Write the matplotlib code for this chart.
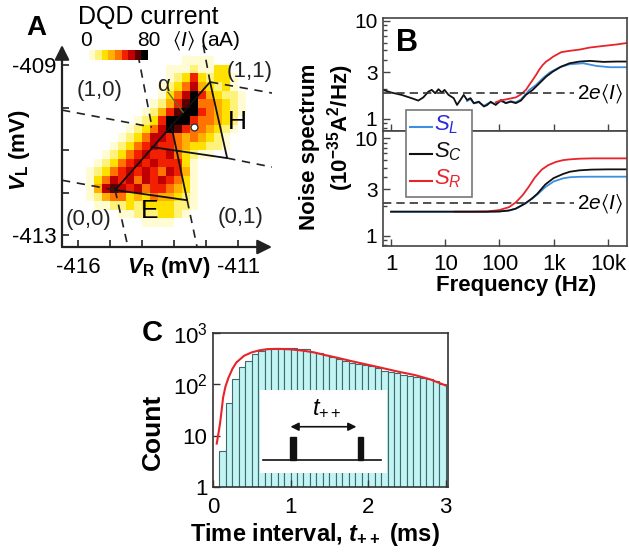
import numpy as np
import matplotlib
matplotlib.use('Agg')
import matplotlib.pyplot as plt
from matplotlib.colors import ListedColormap, BoundaryNorm
from matplotlib.patches import Rectangle
from matplotlib.lines import Line2D
from matplotlib.ticker import FixedLocator, FixedFormatter, LogLocator, NullFormatter

plt.rcParams['font.family'] = ['Liberation Sans', 'DejaVu Sans']
plt.rcParams['mathtext.fontset'] = 'custom'
plt.rcParams['mathtext.rm'] = 'Liberation Sans'
plt.rcParams['mathtext.it'] = 'Liberation Sans:italic'
plt.rcParams['mathtext.bf'] = 'Liberation Sans:bold'
plt.rcParams['mathtext.bfit'] = 'Liberation Sans:bold:italic'
plt.rcParams['mathtext.fallback'] = 'stixsans'

# ---- panel A: DQD current map (one digit per cell, 0..9 -> 0..72 aA)
vr_edges = np.linspace(-415.75, -410.75, 21)
vl_edges = np.linspace(-408.8, -412.8, 21)
current_rows = [
    "............1111....",
    "..........11121133..",
    "..........123632331.",
    ".........1235743231.",
    ".........13579643221",
    "........124689554321",
    ".......1246899654321",
    "......1236999655432.",
    ".....12357986554321.",
    "....12357765454321..",
    "...123567665433221..",
    "..12356766753211....",
    ".1235676766631......",
    "12356767657641......",
    "13576757676531......",
    "14787675665431......",
    "12455343544321......",
    ".1122323333221......",
    "....112223321.......",
    ".......1111.........",
]
level_colors = ['#ffffff', '#fffbd2', '#fff27a', '#ffe100', '#ffb000',
                '#ff7400', '#f02000', '#c00000', '#5a0000', '#000000']

# bias triangle outlines (mV)
p00 = (-414.84, -411.94)
e_corner = (-412.59, -412.18)
e_apex = (-413.09, -410.41)
p11 = (-411.875, -409.40)
h_corner = (-411.34, -411.19)
h_apex = (-413.69, -410.93)
corner = (-413.69, -410.46)

# ---- panel B: noise spectra
top_f_c = [0.71, 1.01, 1.56, 2.39, 3.18, 3.94, 4.89, 5.63, 6.51, 7.5, 8.65, 9.7, 11.5, 14.3,
           16.5, 19.0, 21.9, 25.3, 29.2, 33.7, 41.7, 51.7, 59.6, 68.9, 85.3, 106, 131, 162,
           201, 249, 308, 411, 546, 728, 967, 1384, 1977, 3036, 4660, 8250, 14600, 22500]
top_s_c = [1.98, 1.86, 1.76, 1.63, 1.54, 1.66, 1.90, 1.98, 1.83, 2.01, 1.86, 1.98, 1.76, 1.63,
           1.39, 1.56, 1.76, 1.56, 1.63, 1.45, 1.50, 1.34, 1.39, 1.50, 1.39, 1.56, 1.45, 1.50,
           1.45, 1.54, 1.76, 1.98, 2.31, 2.70, 3.04, 3.42, 3.70, 3.85, 3.91, 3.82, 3.85, 3.85]
top_f_l = [25.3, 29.2, 33.7, 41.7, 51.7, 59.6, 68.9, 85.3, 106, 131, 162, 201, 249, 308,
           356, 474, 630, 839, 1288, 1977, 3500, 6210, 11000, 22500]
top_s_l = [1.52, 1.60, 1.44, 1.48, 1.36, 1.43, 1.47, 1.41, 1.52, 1.46, 1.52, 1.48, 1.58, 1.80,
           1.98, 2.22, 2.60, 2.97, 3.37, 3.61, 3.70, 3.47, 3.37, 3.37]
top_f_r = [85.3, 106, 131, 162, 201, 249, 308, 360, 411, 474, 546, 630, 728, 839, 967,
           1384, 1977, 3036, 4660, 8250, 14600, 22500]
top_s_r = [1.48, 1.55, 1.58, 1.62, 1.66, 1.78, 1.98, 2.25, 2.50, 2.81, 3.20, 3.55, 3.85, 4.05,
           4.30, 4.80, 4.95, 5.10, 5.35, 5.55, 5.75, 5.95]
top_shot = 1.83

bot_f = [1, 3, 10, 30, 60, 100, 150, 200, 300, 400, 500, 700, 1000, 1500, 2000, 3000, 5000,
         10000, 22500]
bot_s_c = [1.77, 1.77, 1.77, 1.77, 1.77, 1.78, 1.82, 1.90, 2.15, 2.42, 2.70, 3.35, 3.90, 4.30,
           4.53, 4.68, 4.76, 4.79, 4.79]
bot_s_l = [1.77, 1.77, 1.77, 1.77, 1.77, 1.78, 1.82, 1.90, 2.15, 2.40, 2.65, 3.15, 3.60, 3.88,
           3.98, 4.02, 4.03, 4.03, 4.03]
bot_f_r = [15, 30, 60, 100, 150, 200, 270, 350, 450, 600, 800, 1100, 1500, 2000, 3000, 5000,
           10000, 22500]
bot_s_r = [1.77, 1.77, 1.78, 1.84, 1.97, 2.20, 2.62, 3.20, 3.95, 4.75, 5.30, 5.70, 5.95, 6.06,
           6.15, 6.20, 6.20, 6.20]
bot_shot = 2.16

# ---- panel C: waiting-time histogram
bin_width = 1 / 12
counts = [0, 5, 44, 125, 215, 285, 390, 450, 490, 500, 505, 505, 500, 495, 480, 430, 400, 375,
          340, 310, 280, 255, 245, 235, 225, 205, 185, 175, 165, 155, 145, 138, 132, 128, 118, 100]
fit_t = [0.048, 0.07, 0.09, 0.11, 0.13, 0.16, 0.2, 0.25, 0.3, 0.4, 0.5, 0.6, 0.7, 0.85, 1.0,
         1.15, 1.3, 1.45, 1.6, 1.8, 2.0, 2.2, 2.4, 2.6, 2.8, 3.0]
fit_n = [7, 11, 17, 30, 55, 90, 135, 200, 265, 360, 420, 460, 485, 490, 480, 455, 420, 370,
         330, 280, 240, 205, 175, 152, 125, 95]

blue, red, dark = '#3d8fe0', '#e8232a', '#111111'
W, H = 629, 556


def box(l, t, r, b):
    return [l / W, 1 - b / H, (r - l) / W, (b - t) / H]


def fx(x):
    return x / W


def fy(y):
    return 1 - y / H


fig = plt.figure(figsize=(W / 100, H / 100), dpi=100)

# ================= A =================
axA = fig.add_axes(box(62, 45, 272, 247))
current = np.array([[int(ch) if ch != '.' else 0 for ch in row] for row in current_rows]) * 8.0
cmap = ListedColormap(level_colors)
norm = BoundaryNorm(np.arange(0, 88, 8), 10)
mesh = axA.pcolormesh(vr_edges, vl_edges, current, cmap=cmap, norm=norm)
axA.set_xlim(-416.5, -409.94)
axA.set_ylim(-413.28, -408.53)
for s in axA.spines.values():
    s.set_visible(False)
arr = dict(arrowstyle='-|>', color='#222222', lw=1.6, mutation_scale=22, shrinkA=0, shrinkB=0)
axA.annotate('', xy=(0, 1), xytext=(0, 0), xycoords='axes fraction', arrowprops=arr)
axA.annotate('', xy=(1, 0), xytext=(0, 0), xycoords='axes fraction', arrowprops=arr)
axA.set_xticks(np.arange(-416, -410))
axA.set_xticklabels(['-416', '', '', '', '', '-411'])
axA.set_yticks(np.arange(-413, -408))
axA.set_yticklabels(['-413', '', '', '', '-409'])
axA.tick_params(direction='in', length=5, width=1.2, labelsize=16, color='#222222')
axA.tick_params(axis='x', pad=7)
axA.tick_params(axis='y', pad=4)

dash = dict(color='#222222', lw=1.2, ls=(0, (5, 4)))
solid = dict(color='#111111', lw=1.3)
axA.plot([-416.5, corner[0]], [-410.06, corner[1]], **dash)
axA.plot([-414.125, corner[0]], [-408.76, corner[1]], **dash)
axA.plot([-412.09, p11[0]], [-408.53, p11[1]], **dash)
axA.plot([p11[0], -409.94], [p11[1], -409.66], **dash)
axA.plot([h_corner[0], -409.94], [h_corner[1], -411.40], **dash)
axA.plot([-416.5, p00[0]], [-411.71, p00[1]], **dash)
axA.plot([p00[0], -414.44], [p00[1], -413.28], **dash)
axA.plot([e_corner[0], -412.28], [e_corner[1], -413.28], **dash)
axA.plot([p00[0], p11[0]], [p00[1], p11[1]], **solid)
axA.plot([p00[0], e_corner[0], e_apex[0]], [p00[1], e_corner[1], e_apex[1]], **solid)
axA.plot([p11[0], h_corner[0], h_apex[0]], [p11[1], h_corner[1], h_apex[1]], **solid)
axA.plot([-413.19, -412.72], [-409.64, -410.11], color='#6b6b30', lw=1.0)
axA.plot([-412.375], [-410.46], 'o', ms=5, mfc='white', mec='#333333', mew=1)

lab = dict(transform=axA.transAxes, ha='center', va='center', fontsize=16, color='#222222')
axA.text(0.181, 0.777, '(1,0)', **lab)
axA.text(0.895, 0.870, '(1,1)', **lab)
axA.text(0.124, 0.134, '(0,0)', **lab)
axA.text(0.848, 0.144, '(0,1)', **lab)
axA.text(0.481, 0.800, 'α', **lab)
axA.text(0.833, 0.619, 'H', transform=axA.transAxes, ha='center', va='center', fontsize=19)
axA.text(0.419, 0.178, 'E', transform=axA.transAxes, ha='center', va='center', fontsize=19)
axA.text(0.51, -0.1, r'$\mathbfit{V}_{\mathbf{R}}$ (mV)', transform=axA.transAxes,
         ha='center', va='center', fontsize=16, fontweight='bold')
axA.text(-0.2, 0.48, r'$\mathbfit{V}_{\mathbf{L}}$ (mV)', transform=axA.transAxes,
         ha='center', va='center', fontsize=16, fontweight='bold', rotation=90)

cax = fig.add_axes(box(82, 50, 148, 60))
cb = fig.colorbar(mesh, cax=cax, orientation='horizontal')
cb.outline.set_visible(False)
cax.minorticks_off()
cax.set_xticks([])
fig.text(fx(148), fy(17), 'DQD current', ha='center', va='center', fontsize=18)
fig.text(fx(86), fy(41), '0', ha='center', va='center', fontsize=15)
fig.text(fx(149), fy(41), '80', ha='center', va='center', fontsize=15)
fig.text(fx(206), fy(41), r'$\langle I\rangle$ (aA)', ha='center', va='center', fontsize=15)
fig.text(fx(36), fy(28), 'A', ha='center', va='center', fontsize=20, fontweight='bold')

# ================= B =================
axB1 = fig.add_axes(box(383, 18, 627, 131))
axB2 = fig.add_axes(box(383, 131, 627, 246))
axB1.plot(top_f_l, top_s_l, color=blue, lw=1.3)
axB1.plot(top_f_c, top_s_c, color=dark, lw=1.3)
axB1.plot(top_f_r, top_s_r, color=red, lw=1.3)
axB2.plot(bot_f, bot_s_l, color=blue, lw=1.3)
axB2.plot(bot_f_r, bot_s_r, color=red, lw=1.3)
axB2.plot(bot_f, bot_s_c, color=dark, lw=1.3)
axB1.hlines(top_shot, 0.71, 2400, color='#333333', lw=1.2, ls=(0, (5, 3)))
axB2.hlines(bot_shot, 0.71, 2400, color='#333333', lw=1.2, ls=(0, (5, 3)))
axB1.text(2700, top_shot, r'2$e\langle I\rangle$', ha='left', va='center', fontsize=15)
axB2.text(2700, bot_shot, r'2$e\langle I\rangle$', ha='left', va='center', fontsize=15)
axB1.set_ylim(0.754, 10.7)
axB2.set_ylim(0.79, 11.8)
for ax in (axB1, axB2):
    ax.set_xscale('log')
    ax.set_yscale('log')
    ax.set_xlim(0.71, 22600)
    ax.xaxis.set_major_locator(FixedLocator([1, 10, 100, 1000, 10000]))
    ax.xaxis.set_minor_locator(FixedLocator([]))
    ax.yaxis.set_major_locator(FixedLocator([1, 3, 10]))
    ax.yaxis.set_major_formatter(FixedFormatter(['1', '3', '10']))
    ax.yaxis.set_minor_locator(LogLocator(subs=np.arange(2, 10)))
    ax.yaxis.set_minor_formatter(NullFormatter())
    ax.tick_params(which='both', direction='in', labelsize=15, width=1.0, color='#444444')
    ax.tick_params(which='major', length=5)
    ax.tick_params(which='minor', length=3)
    ax.tick_params(axis='y', pad=4)
    for s in ax.spines.values():
        s.set_color('#444444')
        s.set_linewidth(1.2)
axB1.set_xticklabels([])
axB2.xaxis.set_major_formatter(FixedFormatter(['1', '10', '100', '1k', '10k']))
axB2.tick_params(axis='x', pad=6, labelsize=16)

fig.text(fx(407), fy(43), 'B', ha='center', va='center', fontsize=22, fontweight='bold')
fig.text(fx(309), fy(147), 'Noise spectrum', rotation=90, ha='center', va='center',
         fontsize=16, fontweight='bold')
fig.text(fx(341), fy(128), r'(10$^{\mathbf{-35}}$A$^{\mathbf{2}}$/Hz)', rotation=90,
         ha='center', va='center', fontsize=16, fontweight='bold')
fig.text(fx(516), fy(285), 'Frequency (Hz)', ha='center', va='center', fontsize=16,
         fontweight='bold')

# legend box spanning both spectra
leg = Rectangle((fx(406), fy(197)), (472 - 406) / W, (197 - 110) / H, transform=fig.transFigure,
                facecolor='white', edgecolor='#777777', lw=1.2, zorder=10)
fig.add_artist(leg)
for y, lc, tc, txt in [(127, blue, '#2a2ad8', r'$S_L$'), (154, dark, dark, r'$S_C$'),
                       (181, red, red, r'$S_R$')]:
    fig.add_artist(Line2D([fx(410), fx(432)], [fy(y), fy(y)], transform=fig.transFigure,
                          color=lc, lw=1.5, zorder=11))
    fig.text(fx(434), fy(y - 2), txt, color=tc, fontsize=16, ha='left', va='center', zorder=11)

# ================= C =================
axC = fig.add_axes(box(213, 333, 448, 487))
centers = (np.arange(len(counts)) + 0.5) * bin_width
axC.bar(centers, counts, width=bin_width, color='#c2f4f4', edgecolor='#3d6b6b', lw=0.8)
axC.plot(fit_t, fit_n, color=red, lw=1.5, zorder=5)
axC.set_yscale('log')
axC.set_ylim(1, 1000)
axC.set_xlim(0, 3.03)
axC.yaxis.set_major_locator(FixedLocator([1, 10, 100, 1000]))
axC.yaxis.set_major_formatter(FixedFormatter(['1', '10', r'$10^2$', r'$10^3$']))
axC.yaxis.set_minor_locator(FixedLocator([]))
axC.set_xticks([0, 1, 2, 3])
axC.tick_params(direction='in', length=5, labelsize=16, width=1.0, color='#333333')
axC.tick_params(axis='x', pad=7)
axC.tick_params(axis='y', pad=4)
for s in axC.spines.values():
    s.set_color('#333333')
    s.set_linewidth(1.2)

ins = axC.inset_axes([0.2, 0.09, 0.54, 0.54])
ins.set_xlim(0, 1)
ins.set_ylim(0, 1)
ins.set_xticks([])
ins.set_yticks([])
for s in ins.spines.values():
    s.set_visible(False)
ins.set_facecolor('white')
ins.plot([0.02, 0.95], [0.157, 0.157], color='#111111', lw=1.2)
ins.add_patch(Rectangle((0.236, 0.157), 0.045, 0.28, color='#111111'))
ins.add_patch(Rectangle((0.77, 0.157), 0.045, 0.28, color='#111111'))
ins.annotate('', xy=(0.24, 0.558), xytext=(0.76, 0.558),
             arrowprops=dict(arrowstyle='<|-|>', color='#111111', lw=1.2, mutation_scale=12,
                             shrinkA=0, shrinkB=0))
ins.text(0.53, 0.78, r'$t_{++}$', ha='center', va='center', fontsize=17)

fig.text(fx(152), fy(333), 'C', ha='center', va='center', fontsize=21, fontweight='bold')
fig.text(fx(153), fy(432), 'Count', rotation=90, ha='center', va='center', fontsize=19,
         fontweight='bold')
fig.text(fx(315), fy(535), r'Time interval, $\mathbfit{t}_{\mathbf{++}}$ (ms)', ha='center',
         va='center', fontsize=17, fontweight='bold')

fig.savefig('out.png', dpi=100, facecolor='white')
